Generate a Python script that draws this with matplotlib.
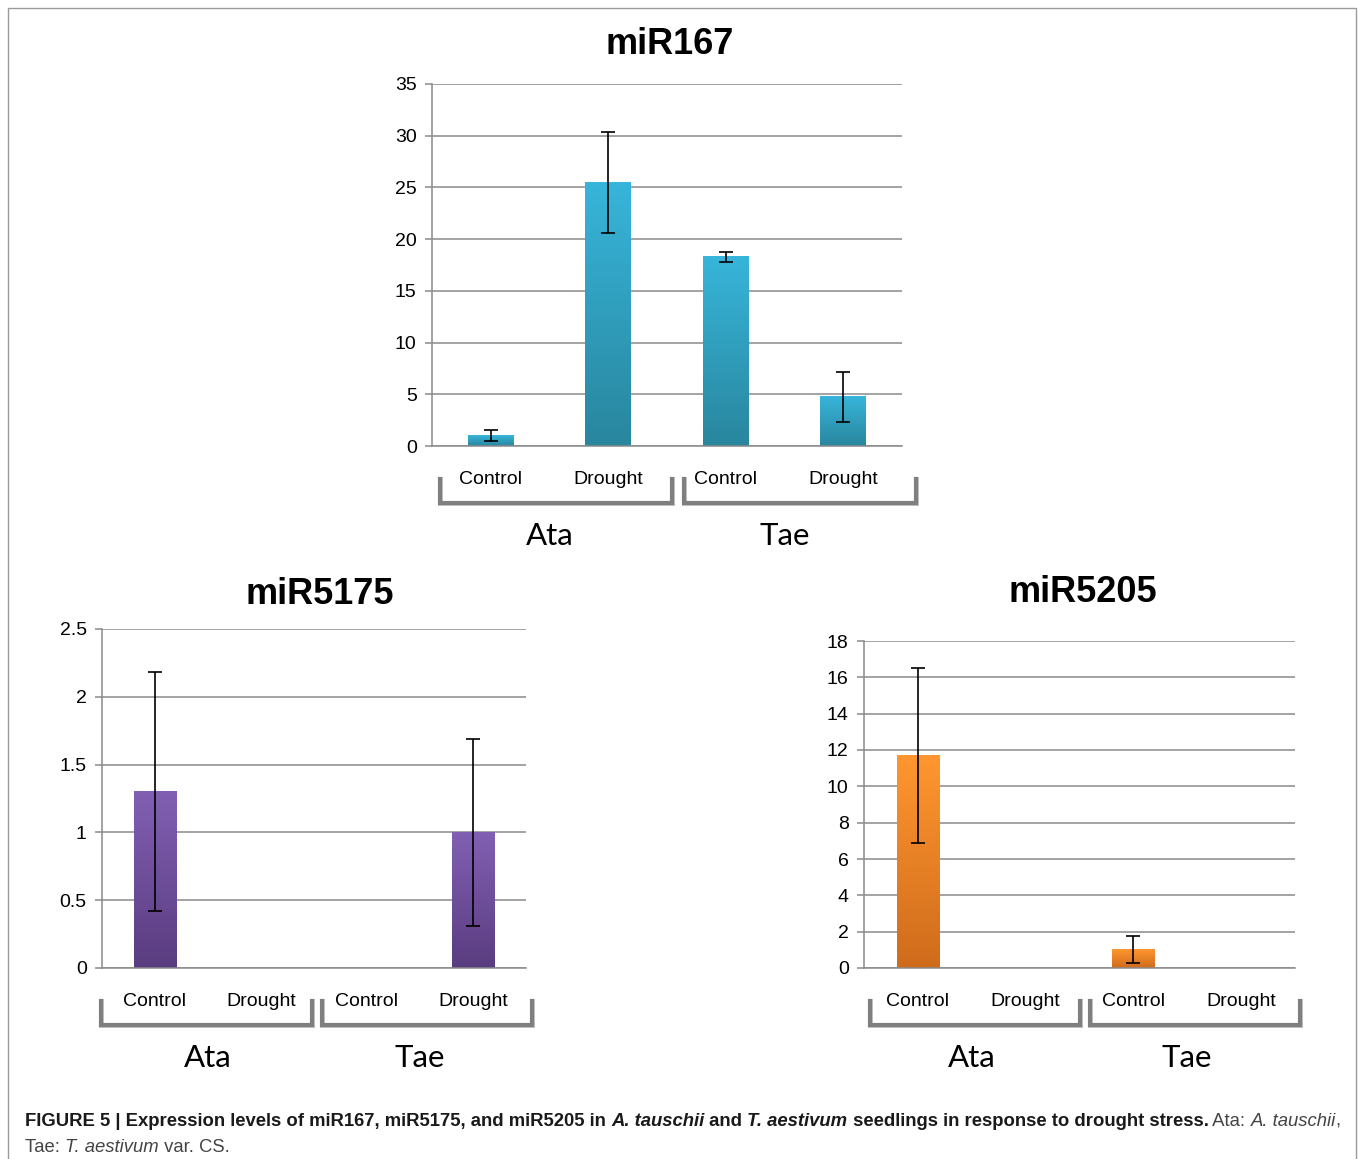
import matplotlib
matplotlib.use("Agg")
import matplotlib.pyplot as plt
import numpy as np
from matplotlib.colors import LinearSegmentedColormap
from matplotlib.patches import Rectangle
import matplotlib.transforms as mtransforms

W, H = 1358, 1159

categories = ["Control", "Drought", "Control", "Drought"]
groups = ["Ata", "Tae"]

mir167_vals = [1.0, 25.5, 18.3, 4.75]
mir167_err = [0.55, 4.9, 0.5, 2.4]

mir5175_vals = [1.3, 0, 0, 1.0]
mir5175_err = [0.88, 0, 0, 0.69]

mir5205_vals = [11.7, 0, 1.0, 0]
mir5205_err = [4.8, 0, 0.74, 0]

GRID = "#8a8a8a"
SANS = "Liberation Sans"


def px(x, y):
    return x / W, 1 - y / H


def axes_px(l, t, r, b):
    return [l / W, 1 - b / H, (r - l) / W, (b - t) / H]


fig = plt.figure(figsize=(W / 100, H / 100), dpi=100)

# outer frame
fig.patches.append(Rectangle(px(8, 1175), (1356 - 8) / W, (1175 - 8) / H,
                             transform=fig.transFigure, fill=False,
                             edgecolor="#9a9a9a", lw=1.0))


def chart(rect, title, title_xy, vals, err, ticks, ticklabels, top, bottom,
          bwidth, spans):
    ax = fig.add_axes(axes_px(*rect))
    x = np.arange(len(vals))
    bars = ax.bar(x, vals, width=bwidth, color="none", zorder=2)
    cmap = LinearSegmentedColormap.from_list("g", [bottom, top])
    grad = np.linspace(0, 1, 256).reshape(-1, 1)
    for b in bars:
        h = b.get_height()
        if h <= 0:
            continue
        x0 = b.get_x()
        ax.imshow(grad, extent=(x0, x0 + b.get_width(), 0, h), origin="lower",
                  aspect="auto", cmap=cmap, zorder=2)
    v = np.array(vals)
    e = np.array(err)
    m = e > 0
    ax.errorbar(x[m], v[m], yerr=e[m], fmt="none", ecolor="black",
                elinewidth=1.2, capsize=5, capthick=1.2, zorder=3)
    ax.set_xlim(-0.5, len(vals) - 0.5)
    ax.set_ylim(ticks[0], ticks[-1])
    ax.set_yticks(ticks, ticklabels)
    ax.grid(axis="y", color=GRID, lw=1.1, zorder=0)
    ax.set_axisbelow(True)
    for s in ["top", "right"]:
        ax.spines[s].set_visible(False)
    for s in ["left", "bottom"]:
        ax.spines[s].set_color(GRID)
        ax.spines[s].set_linewidth(1.1)
    ax.tick_params(axis="y", colors=GRID, length=5, width=1.1, pad=6,
                   labelsize=14, labelcolor="black")
    ax.set_xticks(x, categories)
    ax.tick_params(axis="x", length=0, pad=18, labelsize=14, labelcolor="black")
    for lab in ax.get_xticklabels() + ax.get_yticklabels():
        lab.set_fontfamily(SANS)

    # group brackets below the category labels
    axh = (rect[3] - rect[1]) * fig.dpi / 100
    tr = mtransforms.blended_transform_factory(ax.transData, ax.transAxes)
    yb = -57 / axh
    yt = -33 / axh
    for g, name in enumerate(groups):
        xl, xr = spans[g]
        ax.plot([xl, xl, xr, xr], [yt, yb, yb, yt], transform=tr, color="#c4c4c4",
                lw=3.6, clip_on=False, solid_joinstyle="miter", zorder=1)
        ax.plot([xl, xl, xr, xr], [yt, yb, yb, yt], transform=tr, color="#7f7f7f",
                lw=3.0, clip_on=False, solid_joinstyle="miter", zorder=2)
        ax.text(2 * g + 0.5, -90 / axh, name, transform=tr, ha="center",
                va="center", fontsize=22.5, family="Lato")

    fig.text(*px(*title_xy), title, ha="center", va="center", fontsize=26,
             fontweight="bold", family=SANS)
    return ax


chart((432, 84, 902, 446), "miR167", (670, 45), mir167_vals, mir167_err,
      [0, 5, 10, 15, 20, 25, 30, 35], ["0", "5", "10", "15", "20", "25", "30", "35"],
      "#37b5da", "#29869e", 0.39, [(-0.43, 1.54), (1.645, 3.62)])
chart((102, 629, 526, 968), "miR5175", (320, 594), mir5175_vals, mir5175_err,
      [0, 0.5, 1, 1.5, 2, 2.5], ["0", "0.5", "1", "1.5", "2", "2.5"],
      "#8160b3", "#5a3c80", 0.4, [(-0.51, 1.48), (1.575, 3.56)])
chart((864, 641, 1295, 968), "miR5205", (1083, 592), mir5205_vals, mir5205_err,
      list(range(0, 19, 2)), [str(t) for t in range(0, 19, 2)],
      "#ff962f", "#cf6c1c", 0.39, [(-0.445, 1.505), (1.6, 3.545)])

# caption with mixed styles, placed piece by piece
renderer = fig.canvas.get_renderer()
line1 = [
    ("FIGURE 5 | Expression levels of miR167, miR5175, and miR5205 in ", "bold", "normal", "#1a1a1a"),
    ("A. tauschii", "bold", "italic", "#1a1a1a"),
    (" and ", "bold", "normal", "#1a1a1a"),
    ("T. aestivum", "bold", "italic", "#1a1a1a"),
    (" seedlings in response to drought stress.", "bold", "normal", "#1a1a1a"),
    (" Ata: ", "normal", "normal", "#444444"),
    ("A. tauschii", "normal", "italic", "#444444"),
    (",", "normal", "normal", "#444444"),
]
line2 = [
    ("Tae: ", "normal", "normal", "#444444"),
    ("T. aestivum", "normal", "italic", "#444444"),
    (" var. CS.", "normal", "normal", "#444444"),
]


def write_line(pieces, x0, y0, size):
    xcur = x0
    for s, wt, st, col in pieces:
        t = fig.text(xcur / W, 1 - y0 / H, s, fontsize=size, fontweight=wt,
                     fontstyle=st, color=col, family=SANS, va="baseline", ha="left")
        bb = t.get_window_extent(renderer)
        xcur += bb.width


write_line(line1, 25, 1126, 13.3)
write_line(line2, 25, 1152, 13.3)

fig.savefig("out.png", dpi=100)
